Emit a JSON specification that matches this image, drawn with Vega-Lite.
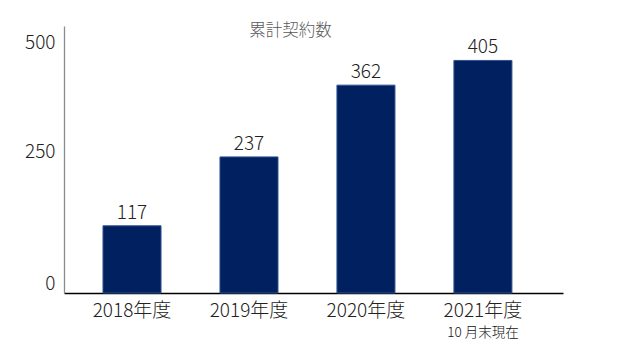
{
  "$schema": "https://vega.github.io/schema/vega-lite/v6.json",
  "width": 499,
  "height": 267,
  "autosize": "none",
  "padding": {"left": 64, "top": 26, "right": 54, "bottom": 61},
  "background": "white",
  "config": {"view": {"stroke": null}, "font": "Noto Sans CJK JP"},
  "title": {"text": "累計契約数", "fontSize": 16.5, "fontWeight": 300, "color": "#595959", "font": "Noto Sans CJK JP", "anchor": "middle", "dx": -23, "offset": -29, "baseline": "bottom"},
  "data": {"values": [
    {"year": "2018年度", "count": 117, "note": ""},
    {"year": "2019年度", "count": 237, "note": ""},
    {"year": "2020年度", "count": 362, "note": ""},
    {"year": "2021年度", "count": 405, "note": "10 月末現在"}
  ]},
  "encoding": {
    "x": {"field": "year", "type": "nominal", "sort": null,
      "scale": {"paddingInner": 0.504, "paddingOuter": 0.385, "align": 0.433},
      "axis": {"title": null, "labelAngle": 0, "ticks": false, "domainColor": "#000000", "domainWidth": 1.3, "labelFontSize": 19, "labelColor": "#222222", "labelPadding": 8, "labelFont": "Noto Sans CJK JP", "labelFontWeight": 300}}
  },
  "layer": [
    {
      "mark": {"type": "bar", "color": "#012060", "stroke": "#2F528F", "strokeWidth": 1},
      "encoding": {
        "y": {"field": "count", "type": "quantitative",
          "scale": {"domain": [0, 465], "nice": false, "zero": true},
          "axis": {"title": null, "grid": false, "ticks": false, "values": [17, 246, 437],
            "labelExpr": "datum.value < 100 ? '0' : datum.value < 300 ? '250' : '500'",
            "domainColor": "#8c8c8c", "domainWidth": 1.3, "labelFontSize": 19, "labelColor": "#222222", "labelPadding": 9, "labelFont": "Noto Sans CJK JP", "labelFontWeight": 300}}
      }
    },
    {
      "mark": {"type": "text", "fontSize": 19, "color": "#222222", "baseline": "bottom", "dy": -3, "font": "Noto Sans CJK JP", "fontWeight": 300},
      "encoding": {
        "y": {"field": "count", "type": "quantitative"},
        "text": {"field": "count", "type": "quantitative"}
      }
    },
    {
      "mark": {"type": "text", "fontSize": 13.5, "color": "#111111", "baseline": "middle", "font": "Noto Sans CJK JP", "fontWeight": 300, "clip": false},
      "encoding": {
        "y": {"datum": -70, "type": "quantitative"},
        "text": {"field": "note", "type": "nominal"}
      }
    }
  ]
}
